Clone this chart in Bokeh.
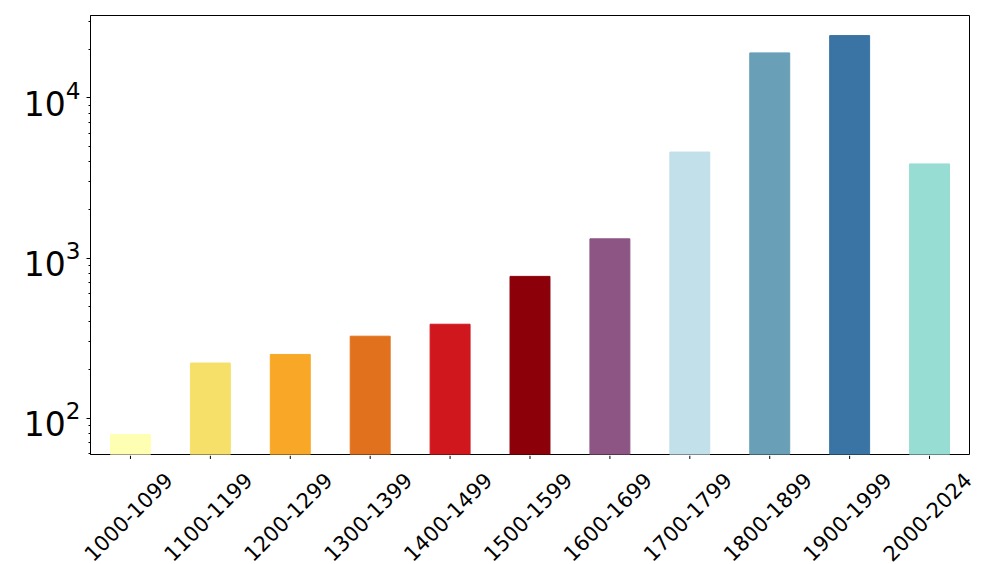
import math
from bokeh.plotting import figure
from bokeh.models import ColumnDataSource, Range1d
from bokeh.core.properties import value
from bokeh.embed import file_html
from bokeh.resources import INLINE

centuries = ["1000-1099", "1100-1199", "1200-1299", "1300-1399", "1400-1499",
             "1500-1599", "1600-1699", "1700-1799", "1800-1899", "1900-1999", "2000-2024"]
counts = [79, 221, 250, 325, 386, 768, 1318, 4590, 19100, 24500, 3870]
colors = ["#FFFFB3", "#F6E06A", "#F8A826", "#E2711D", "#D0171E", "#8B0009",
          "#8C5584", "#C1E0E9", "#699FB7", "#3A74A4", "#98DDD3"]

n = len(centuries)
pos = list(range(n))
source = ColumnDataSource(dict(x=pos, cat=centuries, val=counts, col=colors,
                               base=[1] * n))

# layout constants (pixels)
W = 1000
LEFT, RIGHT, TOP = 90, 31, 15
FRAME_BOTTOM = 454
TOTAL_H = 564
unit_px = (W - LEFT - RIGHT) / n

# ---- main chart -------------------------------------------------------------
p = figure(x_range=Range1d(-0.5, n - 0.5), y_axis_type="log",
           y_range=Range1d(59.3, 32700), x_axis_location=None,
           width=W, height=FRAME_BOTTOM + 1, output_backend="svg",
           toolbar_location=None,
           min_border_left=LEFT, min_border_right=RIGHT, min_border_top=TOP,
           min_border_bottom=1)

p.vbar(x="x", top="val", bottom="base", width=0.5, color="col", source=source)

p.xgrid.visible = False
p.ygrid.visible = False
p.outline_line_color = "black"
p.outline_line_width = 1
p.outline_line_alpha = 1

yax = p.yaxis[0]
yax.axis_line_color = "black"
yax.major_tick_line_color = "black"
yax.major_tick_out = 4
yax.major_tick_in = 0
yax.minor_tick_line_color = "black"
yax.minor_tick_out = 2
yax.minor_tick_in = 0
yax.major_label_text_font = "DejaVu Sans"
yax.major_label_text_font_size = "33px"
yax.major_label_text_color = "black"
yax.major_label_standoff = 6

# ---- x tick marks and rotated, centred category labels (separate strip) -----
H2 = TOTAL_H - (FRAME_BOTTOM + 1)
q = figure(x_range=Range1d(-0.5 - LEFT / unit_px, n - 0.5 + RIGHT / unit_px),
           y_range=Range1d(H2, 0), x_axis_location=None, y_axis_location=None,
           width=W, height=H2, output_backend="svg", toolbar_location=None,
           min_border=0, min_border_left=0, min_border_right=0,
           min_border_top=0, min_border_bottom=0)
q.outline_line_color = None
q.xgrid.visible = False
q.ygrid.visible = False

q.segment(x0="x", y0=0, x1="x", y1=3.5, line_color="black", line_width=1,
          source=source)
q.text(x="x", y=61, text="cat", source=source, angle=math.pi / 4,
       text_align="center", text_baseline="middle", x_offset=-2.5,
       text_font=value("DejaVu Sans"), text_font_size="21px",
       text_color="black")

open("out.html", "w").write(file_html([p, q], INLINE))
